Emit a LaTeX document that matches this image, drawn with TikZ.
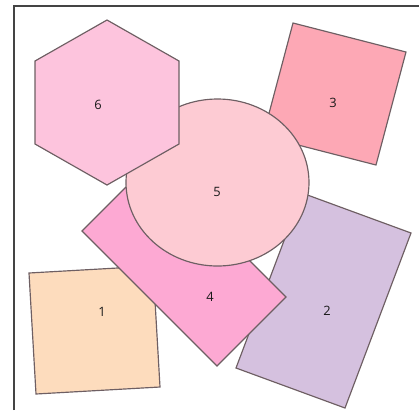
\documentclass[tikz,border=0pt]{standalone}
\usepackage{fontspec}
\setmainfont{Open Sans}
\usepackage{xcolor}
\definecolor{peach}{HTML}{FDDCBD}
\definecolor{lavender}{HTML}{D5C1DF}
\definecolor{rosered}{HTML}{FDA8B5}
\definecolor{hotpink}{HTML}{FDA9D3}
\definecolor{blush}{HTML}{FDCBD3}
\definecolor{candy}{HTML}{FDC4DD}
\definecolor{edgegray}{HTML}{6E5F63}
\definecolor{framegray}{HTML}{444444}

\begin{document}
\begin{tikzpicture}[x=0.03cm, y=-0.03cm,
    piece/.style={draw=edgegray, line width=1pt, line join=miter},
    tag/.style={font=\fontsize{11}{13}\selectfont, text=black!90}]
    \useasboundingbox (0,0) rectangle (419,410);
    % Frame (left and top)
    \draw[framegray, line width=1pt] (14,410) -- (14,6) -- (419,6);

    % Square 1
    \draw[piece, fill=peach] (29,273) -- (153,266) -- (160,387) -- (36,394) -- cycle;
    % Rectangle 2
    \draw[piece, fill=lavender] (302,193) -- (411,233) -- (345,408) -- (236,368) -- cycle;
    % Square 3
    \draw[piece, fill=rosered] (293,23) -- (406,52) -- (376,165) -- (263,136) -- cycle;
    % Rectangle 4
    \draw[piece, fill=hotpink] (82,231) -- (151,162) -- (286,297) -- (217,366) -- cycle;
    % Ellipse 5
    \draw[piece, fill=blush] (217.5,182.5) ellipse [x radius=91.5, y radius=83.5];
    % Hexagon 6
    \draw[piece, fill=candy] (107,20) -- (179,61) -- (179,144) -- (107,185)
        -- (35,144) -- (35,61) -- cycle;

    % Labels
    \node[tag] (one) at (102,312) {1};
    \node[tag] (two) at (327,311) {2};
    \node[tag] (three) at (333,103) {3};
    \node[tag] (four) at (210,297) {4};
    \node[tag] (five) at (217,192) {5};
    \node[tag] (six) at (98,105) {6};
\end{tikzpicture}
\end{document}
